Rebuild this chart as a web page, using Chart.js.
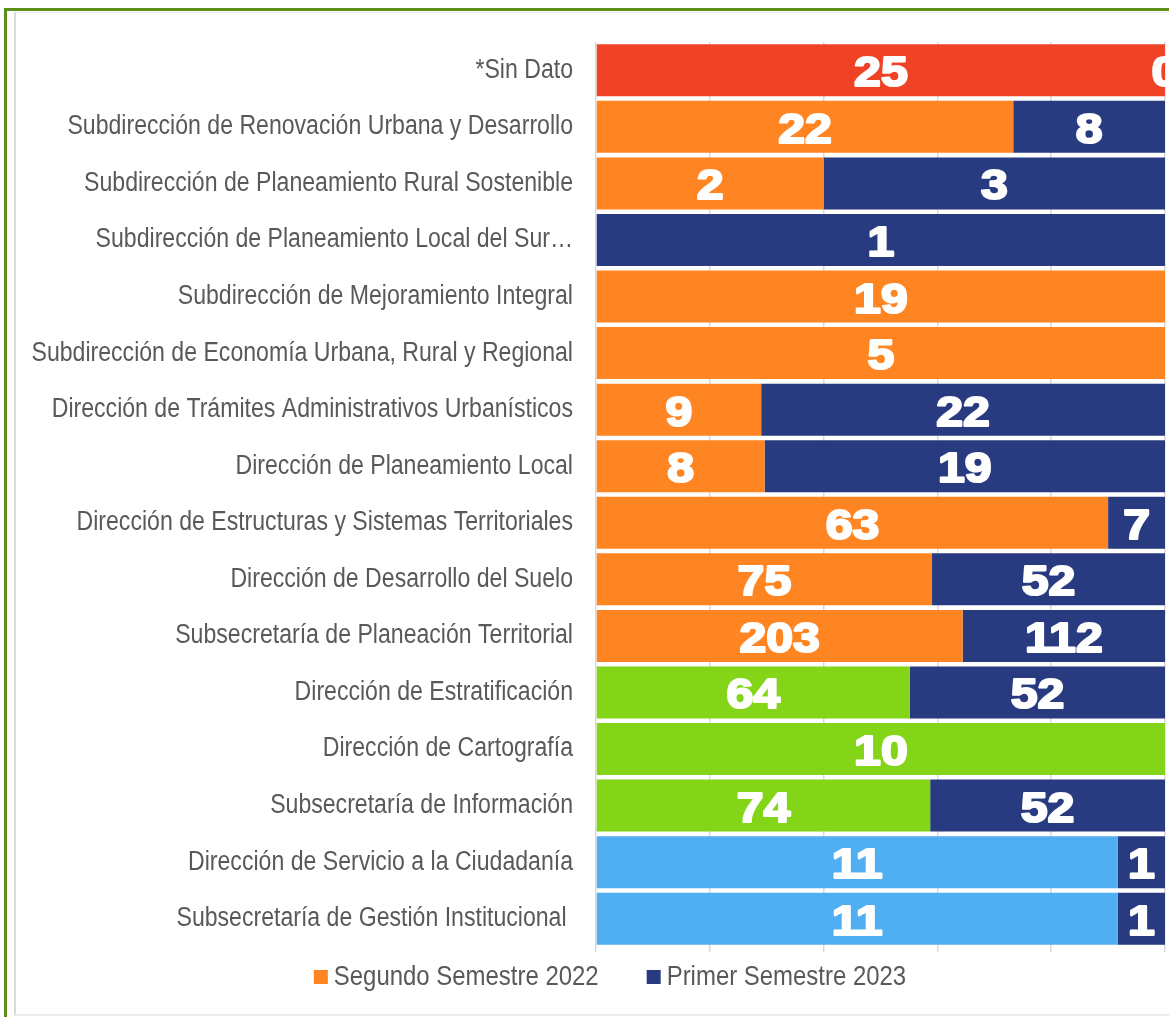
<!DOCTYPE html>
<html><head><meta charset="utf-8">
<script src="https://cdn.jsdelivr.net/npm/chart.js@4.4.1/dist/chart.umd.min.js"></script>
<style>
html,body{margin:0;padding:0;background:#fff;overflow:hidden;width:1169px;height:1017px}
#outer{position:absolute;left:4px;top:8px;width:1300px;height:1100px;border-left:3px solid #5b8f18;border-top:3px solid #5b8f18;box-sizing:border-box}
#inner{position:absolute;left:14px;top:12px;width:1300px;height:1004px;border-left:2px solid #dadada;border-top:1px solid #e6e6e6;border-bottom:2px solid #ececec;box-sizing:border-box}
#wrap{position:absolute;left:0;top:0;width:1169px;height:1017px}
</style></head><body>
<div id="outer"></div><div id="inner"></div>
<div id="wrap"><canvas id="c" width="1169" height="1017"></canvas></div>
<script>
const categories = [
  "*Sin Dato",
  "Subdirección de Renovación Urbana y Desarrollo",
  "Subdirección de Planeamiento Rural Sostenible",
  "Subdirección de Planeamiento Local del Sur…",
  "Subdirección de Mejoramiento Integral",
  "Subdirección de Economía Urbana, Rural y Regional",
  "Dirección de Trámites Administrativos Urbanísticos",
  "Dirección de Planeamiento Local",
  "Dirección de Estructuras y Sistemas Territoriales",
  "Dirección de Desarrollo del Suelo",
  "Subsecretaría de Planeación Territorial",
  "Dirección de Estratificación",
  "Dirección de Cartografía",
  "Subsecretaría de Información",
  "Dirección de Servicio a la Ciudadanía",
  "Subsecretaría de Gestión Institucional "
];
const segundoSemestre2022 = [25, 22, 2, null, 19, 5, 9, 8, 63, 75, 203, 64, 10, 74, 11, 11];
const primerSemestre2023  = [0, 8, 3, 1, null, null, 22, 19, 7, 52, 112, 52, null, 52, 1, 1];
const seriesNames = ["Segundo Semestre 2022", "Primer Semestre 2023"];

// styles
const RED = "#F04325", ORANGE = "#FF8422", GREEN = "#84D418", LBLUE = "#50AEF2", NAVY = "#283B80";
const rowColors2022 = [RED, ORANGE, ORANGE, ORANGE, ORANGE, ORANGE, ORANGE, ORANGE, ORANGE, ORANGE, ORANGE, GREEN, GREEN, GREEN, LBLUE, LBLUE];

const totals = categories.map((_, i) => (segundoSemestre2022[i] || 0) + (primerSemestre2023[i] || 0));
const pct = arr => arr.map((v, i) => v == null ? null : v / totals[i] * 100);

const labelPlugin = {
  id: 'labels',
  afterDatasetsDraw(chart) {
    const ctx = chart.ctx;
    const raws = [segundoSemestre2022, primerSemestre2023];
    ctx.save();
    ctx.fillStyle = '#fff';
    ctx.strokeStyle = '#fff';
    ctx.lineWidth = 2.2;
    ctx.lineJoin = 'round';
    ctx.font = 'bold 43px "Liberation Sans", Arial, sans-serif';
    ctx.textAlign = 'center';
    ctx.textBaseline = 'alphabetic';
    chart.data.datasets.forEach((ds, di) => {
      const meta = chart.getDatasetMeta(di);
      meta.data.forEach((el, i) => {
        const v = raws[di][i];
        if (v == null) return;
        const cx = (el.x + el.base) / 2;
        ctx.save();
        ctx.translate(cx, el.y + 16);
        ctx.scale(1.12, 1);
        ctx.fillText(String(v), 0, 0);
        ctx.strokeText(String(v), 0, 0);
        ctx.restore();
      });
    });
    ctx.restore();
  },
  afterDraw(chart) {
    const ctx = chart.ctx;
    const yScale = chart.scales.y;
    const sx = 0.855;
    ctx.save();
    ctx.fillStyle = '#595959';
    ctx.font = '27px "Liberation Sans", Arial, sans-serif';
    ctx.textAlign = 'right';
    ctx.textBaseline = 'middle';
    categories.forEach((c, i) => {
      const y = yScale.getPixelForValue(i);
      ctx.save();
      ctx.translate(chart.chartArea.left - 23, y);
      ctx.scale(sx, 1);
      ctx.fillText(c, 0, 0);
      ctx.restore();
    });
    // legend
    ctx.font = '28px "Liberation Sans", Arial, sans-serif';
    ctx.textAlign = 'left';
    const colors = [ORANGE, NAVY];
    const box = 14, gap = 6, spacing = 48;
    const widths = seriesNames.map(n => ctx.measureText(n).width * sx);
    const total = widths.reduce((a, w) => a + box + gap + w, 0) + spacing;
    let x = 610 - total / 2;
    const ly = 977;
    seriesNames.forEach((n, k) => {
      ctx.fillStyle = colors[k];
      ctx.fillRect(x, ly - 7, box, box);
      x += box + gap;
      ctx.fillStyle = '#595959';
      ctx.save();
      ctx.translate(x, ly);
      ctx.scale(sx, 1);
      ctx.fillText(n, 0, 0);
      ctx.restore();
      x += widths[k] + spacing;
    });
    ctx.restore();
  }
};

new Chart(document.getElementById('c'), {
  type: 'bar',
  data: {
    labels: categories,
    datasets: [
      { label: seriesNames[0], data: pct(segundoSemestre2022), backgroundColor: rowColors2022 },
      { label: seriesNames[1], data: pct(primerSemestre2023), backgroundColor: NAVY }
    ]
  },
  options: {
    indexAxis: 'y',
    responsive: false,
    devicePixelRatio: 1,
    animation: false,
    datasets: { bar: { categoryPercentage: 1, barPercentage: 0.92, borderWidth: 0 } },
    layout: { padding: { top: 42, right: 4, left: 0, bottom: 0 } },
    plugins: { legend: { display: false }, tooltip: { enabled: false } },
    scales: {
      x: {
        stacked: true, min: 0, max: 100,
        ticks: { display: false, stepSize: 20 },
        grid: { color: '#d9d9d9', tickLength: 5, lineWidth: 1.5 },
        border: { display: false },
        afterFit: s => { s.height = 70; }
      },
      y: {
        stacked: true,
        ticks: { display: false },
        grid: { display: false },
        border: { display: false },
        afterFit: s => { s.width = 596; }
      }
    }
  },
  plugins: [labelPlugin]
});
</script>
</body></html>
